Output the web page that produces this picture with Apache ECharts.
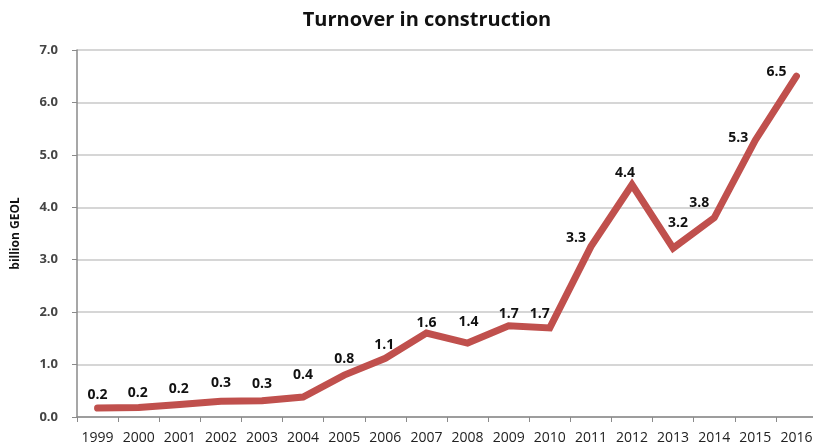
<!DOCTYPE html>
<html><head><meta charset="utf-8">
<script src="https://cdn.jsdelivr.net/npm/echarts@6/dist/echarts.min.js"></script>
<style>html,body{margin:0;padding:0;background:#fff}#c{width:813px;height:443px}</style>
</head><body><div id="c"></div>
<script>
const years = ['1999','2000','2001','2002','2003','2004','2005','2006','2007','2008','2009','2010','2011','2012','2013','2014','2015','2016'];
const turnover = [0.17,0.18,0.24,0.3,0.31,0.38,0.8,1.12,1.6,1.41,1.74,1.7,3.25,4.43,3.22,3.8,5.28,6.5];
const yTicks = [0,1,2,3,4,5,6,7];
// label nudges (dx, dy in px, relative to the point) as placed in the original
const labelNudge = [[0,-13],[-1,-15],[-1,-15],[0,-18],[0,-17],[0,-22],[0,-16],[-1,-13],[0,-10],[1,-21],[0,-12],[-10,-14],[-15,-9],[-7,-12],[5,-25],[-15,-15],[-17,-2],[-20,-4]];

const seriesData = turnover.map((v,i)=>({value:v,label:{offset:labelNudge[i]}}));

const chart = echarts.init(document.getElementById('c'));
chart.setOption({
  animation:false,
  title:{text:'Turnover in construction',left:422,top:5,textAlign:'center',
    textStyle:{fontFamily:'Open Sans',fontWeight:'bold',fontSize:20,color:'#111'}},
  grid:{left:77,top:50,width:740,height:367,containLabel:false,outerBoundsMode:'none'},
  xAxis:{type:'category',data:years,boundaryGap:true,
    axisLine:{lineStyle:{color:'#8a8a8a',width:1.5}},
    axisTick:{show:true,alignWithLabel:false,length:5,lineStyle:{color:'#8a8a8a'}},
    axisLabel:{fontFamily:'Open Sans',fontSize:14,color:'#222',margin:14,interval:0}},
  yAxis:{type:'value',min:0,max:7,interval:1,
    name:'billion GEOL',nameLocation:'middle',nameGap:55,nameRotate:90,
    nameTextStyle:{fontFamily:'Open Sans',fontWeight:'bold',fontSize:12,color:'#111'},
    axisLine:{show:true,lineStyle:{color:'#8a8a8a',width:1.5}},
    axisTick:{show:true,length:5,lineStyle:{color:'#8a8a8a'}},
    axisLabel:{fontFamily:'Open Sans',fontWeight:'bold',fontSize:13,color:'#444',margin:19,
      formatter:v=>yTicks.includes(v)?v.toFixed(1):''},
    splitLine:{lineStyle:{color:'#c9c9c9',width:1.5}}},
  series:[{type:'line',data:seriesData,showSymbol:true,symbol:'circle',symbolSize:1,
    itemStyle:{color:'#C0504D'},
    lineStyle:{color:'#C0504D',width:7,cap:'round',join:'miter'},
    label:{show:true,position:'inside',
      formatter:p=>p.value.toFixed(1),
      fontFamily:'Open Sans',fontWeight:'bold',fontSize:14,color:'#111'}}]
});
</script></body></html>
